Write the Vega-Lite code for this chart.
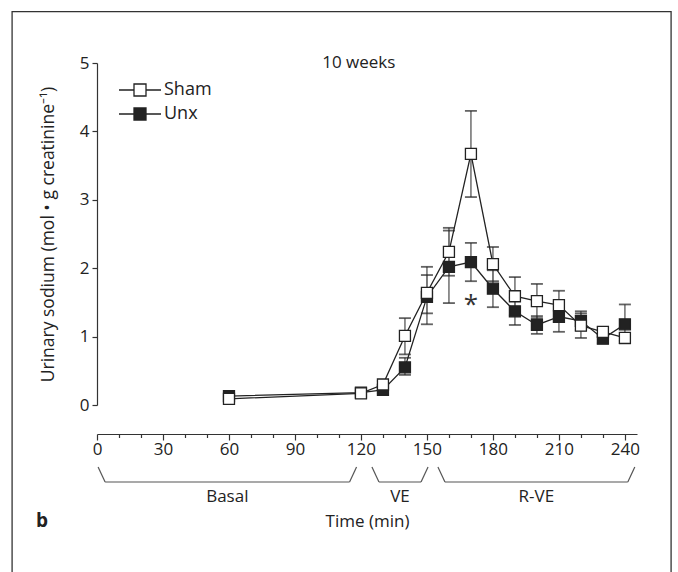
{
  "$schema": "https://vega.github.io/schema/vega-lite/v6.json",
  "width": 540,
  "height": 342,
  "autosize": "none",
  "padding": {"left": 97, "top": 63, "right": 41, "bottom": 167},
  "background": "white",
  "config": {
    "view": {"stroke": null},
    "font": "Open Sans",
    "axis": {"domainColor": "#333", "tickColor": "#333", "domainWidth": 1.2, "tickWidth": 1.2, "labelColor": "#222", "titleColor": "#222", "labelFont": "Open Sans", "titleFont": "Open Sans", "titleFontWeight": "normal", "grid": false}
  },
  "datasets": {
    "series": [
      {"group": "Unx", "time": 60, "value": 0.13, "lo": 0.10, "hi": 0.16},
      {"group": "Unx", "time": 120, "value": 0.18, "lo": 0.15, "hi": 0.21},
      {"group": "Unx", "time": 130, "value": 0.22, "lo": 0.17, "hi": 0.27},
      {"group": "Unx", "time": 140, "value": 0.55, "lo": 0.44, "hi": 0.69},
      {"group": "Unx", "time": 150, "value": 1.58, "lo": 1.18, "hi": 1.90},
      {"group": "Unx", "time": 160, "value": 2.02, "lo": 1.49, "hi": 2.55},
      {"group": "Unx", "time": 170, "value": 2.09, "lo": 1.81, "hi": 2.37},
      {"group": "Unx", "time": 180, "value": 1.70, "lo": 1.43, "hi": 1.97},
      {"group": "Unx", "time": 190, "value": 1.37, "lo": 1.17, "hi": 1.57},
      {"group": "Unx", "time": 200, "value": 1.17, "lo": 1.04, "hi": 1.30},
      {"group": "Unx", "time": 210, "value": 1.29, "lo": 1.07, "hi": 1.51},
      {"group": "Unx", "time": 220, "value": 1.23, "lo": 1.09, "hi": 1.37},
      {"group": "Unx", "time": 230, "value": 0.97, "lo": 0.90, "hi": 1.04},
      {"group": "Unx", "time": 240, "value": 1.18, "lo": 0.90, "hi": 1.47},
      {"group": "Sham", "time": 60, "value": 0.09, "lo": 0.06, "hi": 0.12},
      {"group": "Sham", "time": 120, "value": 0.17, "lo": 0.14, "hi": 0.20},
      {"group": "Sham", "time": 130, "value": 0.30, "lo": 0.25, "hi": 0.35},
      {"group": "Sham", "time": 140, "value": 1.01, "lo": 0.74, "hi": 1.27},
      {"group": "Sham", "time": 150, "value": 1.64, "lo": 1.34, "hi": 2.02},
      {"group": "Sham", "time": 160, "value": 2.24, "lo": 1.89, "hi": 2.59},
      {"group": "Sham", "time": 170, "value": 3.67, "lo": 3.04, "hi": 4.30},
      {"group": "Sham", "time": 180, "value": 2.06, "lo": 1.81, "hi": 2.31},
      {"group": "Sham", "time": 190, "value": 1.59, "lo": 1.31, "hi": 1.87},
      {"group": "Sham", "time": 200, "value": 1.52, "lo": 1.27, "hi": 1.77},
      {"group": "Sham", "time": 210, "value": 1.46, "lo": 1.25, "hi": 1.67},
      {"group": "Sham", "time": 220, "value": 1.16, "lo": 0.98, "hi": 1.34},
      {"group": "Sham", "time": 230, "value": 1.07, "lo": 1.00, "hi": 1.14},
      {"group": "Sham", "time": 240, "value": 0.98, "lo": 0.94, "hi": 1.02}
    ],
    "phases": [
      {"phase": "Basal", "start": 0.5, "end": 118},
      {"phase": "VE", "start": 125, "end": 150.5},
      {"phase": "R-VE", "start": 155, "end": 244.5}
    ]
  },
  "resolve": {"axis": {"x": "independent", "y": "independent"}},
  "layer": [
    {
      "layer": [
        {
          "data": {"name": "series"},
          "mark": {"type": "rule", "color": "#777", "strokeWidth": 1.6},
          "encoding": {
            "x": {"field": "time", "type": "quantitative", "scale": {"domain": [0, 245.5], "nice": false, "zero": false},
              "axis": {"title": "Time (min)", "orient": "bottom", "offset": 29, "values": [0,30,60,90,120,150,180,210,240],
                "tickSize": 6, "labelFontSize": 17, "labelPadding": 1, "titleFontSize": 17, "titlePadding": 56, "labelFlush": false, "labelOverlap": false}},
            "y": {"field": "lo", "type": "quantitative", "scale": {"domain": [0, 5], "nice": false},
              "axis": {"title": "Urinary sodium (mol • g creatinine⁻¹)", "orient": "left", "values": [0,1,2,3,4,5], "format": "d", "tickSize": 5, "labelFontSize": 17, "labelPadding": 3, "titleFontSize": 17.5, "titlePadding": 22}},
            "y2": {"field": "hi"}
          }
        },
        {
          "data": {"name": "phases"},
          "mark": {"type": "rule", "color": "#555", "strokeWidth": 1.2, "xOffset": 7, "x2Offset": -7},
          "encoding": {"x": {"field": "start", "type": "quantitative"}, "x2": {"field": "end"}, "y": {"datum": -1.126}}
        },
        {
          "data": {"name": "phases"},
          "mark": {"type": "rule", "color": "#555", "strokeWidth": 1.2, "x2Offset": 7},
          "encoding": {"x": {"field": "start", "type": "quantitative"}, "x2": {"field": "start"}, "y": {"datum": -0.906}, "y2": {"datum": -1.126}}
        },
        {
          "data": {"name": "phases"},
          "mark": {"type": "rule", "color": "#555", "strokeWidth": 1.2, "x2Offset": -7},
          "encoding": {"x": {"field": "end", "type": "quantitative"}, "x2": {"field": "end"}, "y": {"datum": -0.906}, "y2": {"datum": -1.126}}
        },
        {
          "data": {"name": "phases"},
          "transform": [{"calculate": "(datum.start + datum.end) / 2", "as": "mid"}],
          "mark": {"type": "text", "fontSize": 17, "color": "#222", "baseline": "middle", "align": "center"},
          "encoding": {"x": {"field": "mid", "type": "quantitative"}, "y": {"datum": -1.35}, "text": {"field": "phase"}}
        },
        {
          "data": {"name": "series"},
          "mark": {"type": "tick", "orient": "horizontal", "color": "#222", "size": 12, "thickness": 1.8},
          "encoding": {"x": {"field": "time", "type": "quantitative"}, "y": {"field": "hi", "type": "quantitative"}}
        },
        {
          "data": {"name": "series"},
          "mark": {"type": "tick", "orient": "horizontal", "color": "#222", "size": 12, "thickness": 1.8},
          "encoding": {"x": {"field": "time", "type": "quantitative"}, "y": {"field": "lo", "type": "quantitative"}}
        },
        {
          "data": {"name": "series"},
          "mark": {"type": "line", "color": "#222", "strokeWidth": 1.3},
          "encoding": {"x": {"field": "time", "type": "quantitative"}, "y": {"field": "value", "type": "quantitative"}, "detail": {"field": "group"}}
        },
        {
          "data": {"name": "series"},
          "mark": {"type": "point", "shape": "square", "filled": true, "size": 121, "stroke": "#222", "strokeWidth": 1.3, "opacity": 1},
          "encoding": {
            "x": {"field": "time", "type": "quantitative"},
            "y": {"field": "value", "type": "quantitative"},
            "fill": {"field": "group", "type": "nominal", "scale": {"domain": ["Sham", "Unx"], "range": ["white", "#222"]},
              "legend": {"title": null, "orient": "none", "legendX": 30, "legendY": 14, "padding": 0,
                "symbolType": "M-1.75,0H-0.5M0.5,0H1.75M-0.5,-0.5H0.5V0.5H-0.5Z", "symbolSize": 576,
                "symbolStrokeColor": "#222", "symbolStrokeWidth": 1.3, "symbolOpacity": 1,
                "labelFontSize": 18, "labelOffset": 11, "rowPadding": 2, "labelColor": "#222", "labelFont": "Open Sans"}}
          }
        },
        {
          "data": {"values": [{"label": "10 weeks"}]},
          "mark": {"type": "text", "fontSize": 17, "color": "#222", "baseline": "middle", "align": "center"},
          "encoding": {"x": {"datum": 119}, "y": {"datum": 5}, "text": {"field": "label"}}
        },
        {
          "data": {"values": [{"label": "b"}]},
          "mark": {"type": "text", "fontSize": 19, "fontWeight": "bold", "color": "#222", "baseline": "middle", "align": "center"},
          "encoding": {"x": {"datum": -25}, "y": {"datum": -1.69}, "text": {"field": "label"}}
        },
        {
          "data": {"values": [{"label": "*"}]},
          "mark": {"type": "text", "fontSize": 26, "color": "#333", "baseline": "middle", "align": "center", "dy": 8},
          "encoding": {"x": {"datum": 170}, "y": {"datum": 1.58}, "text": {"field": "label"}}
        }
      ]
    },
    {
      "data": {"values": [{}]},
      "mark": {"type": "rect", "fill": "white", "fillOpacity": 0, "stroke": "#333", "strokeWidth": 1.3},
      "encoding": {
        "x": {"datum": -38.6, "type": "quantitative",
          "axis": {"orient": "bottom", "offset": 29, "values": [10,20,40,50,70,80,100,110,130,140,160,170,190,200,220,230], "tickSize": 3.5, "labels": false, "domain": false, "title": null}},
        "x2": {"datum": 261},
        "y": {"datum": 5.75, "type": "quantitative", "axis": null},
        "y2": {"datum": -2.7}
      }
    }
  ]
}
